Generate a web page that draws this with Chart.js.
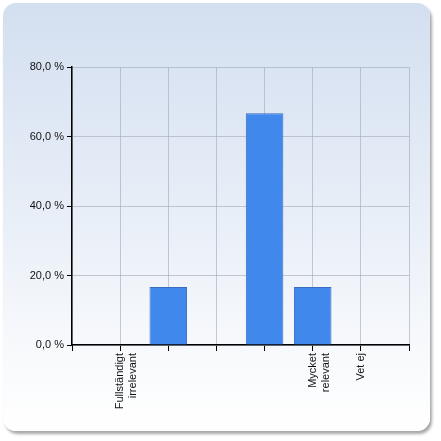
<!DOCTYPE html>
<html lang="sv">
<head>
<meta charset="UTF-8">
<title>Relevans</title>
<style>
    body {
        margin: 0;
        width: 441px;
        height: 441px;
        background: #ffffff;
        position: relative;
        overflow: hidden;
        font-family: "Liberation Sans", Arial, sans-serif;
    }

    .card {
        position: absolute;
        left: 3px;
        top: 3px;
        width: 427px;
        height: 428px;
        border-radius: 13px;
        background: linear-gradient(to bottom, #d3dff0 0%, #e6edf7 45%, #f7f9fc 80%, #ffffff 100%);
        box-shadow: 2px 3px 3px rgba(0, 0, 0, 0.35);
    }

    #chart {
        position: absolute;
        left: 0;
        top: 0;
    }
</style>
</head>
<body>
<div class="card"></div>
<canvas id="chart" width="441" height="441"></canvas>

<script src="https://cdn.jsdelivr.net/npm/chart.js"></script>
<script>
    // answer options and share of respondents (%)
    const categories = [["Fullständigt", "irrelevant"], "", "", "", ["Mycket", "relevant"], "Vet ej"];
    const shares = [0, 16.7, 0, 66.7, 16.7, 0];
    const yTicks = [0, 20, 40, 60, 80];

    // empty slot at each end, like the original axis
    const labels = [""].concat(categories, [""]);
    const values = [null].concat(shares, [null]);

    const gridColor = "rgba(160, 168, 182, 0.6)";
    const font = { family: "'Liberation Sans', Arial, sans-serif", size: 11 };

    new Chart(document.getElementById("chart"), {
        type: "bar",
        data: {
            labels: labels,
            datasets: [{
                data: values,
                backgroundColor: "#4188ec",
                borderColor: "#3a6cbf",
                borderWidth: 1,
                categoryPercentage: 1,
                barPercentage: 0.78
            }]
        },
        options: {
            responsive: false,
            animation: false,
            layout: { padding: { left: 0, top: 67, right: 32, bottom: 0 } },
            plugins: {
                legend: { display: false },
                tooltip: { enabled: false }
            },
            scales: {
                x: {
                    offset: false,
                    afterFit: s => { s.height = 96; },
                    grid: {
                        offset: false,
                        color: gridColor,
                        tickColor: "#000",
                        tickLength: 6
                    },
                    border: { color: "#000", width: 1.5 },
                    ticks: {
                        autoSkip: false,
                        minRotation: 90,
                        maxRotation: 90,
                        padding: 2,
                        color: "#111",
                        font: font
                    }
                },
                y: {
                    min: 0,
                    max: 80,
                    afterFit: s => { s.width = 72; },
                    afterBuildTicks: s => { s.ticks = yTicks.map(v => ({ value: v })); },
                    grid: {
                        color: gridColor,
                        tickColor: "#000",
                        tickLength: 5
                    },
                    border: { color: "#000", width: 1.5 },
                    ticks: {
                        padding: 3,
                        color: "#111",
                        font: font,
                        callback: v => v.toFixed(1).replace(".", ",") + " %"
                    }
                }
            }
        }
    });
</script>
</body>
</html>
